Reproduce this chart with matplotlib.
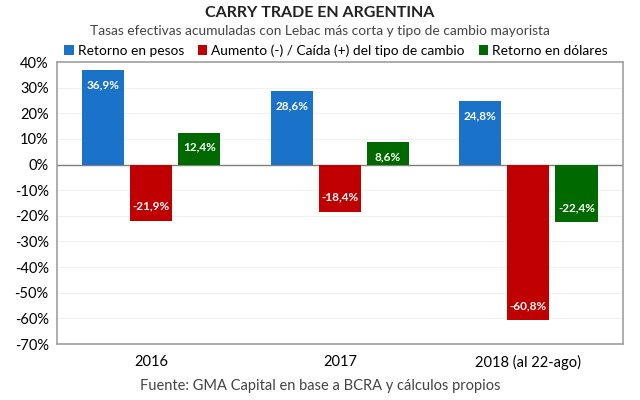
import matplotlib.pyplot as plt
import numpy as np

plt.rcParams['font.family'] = ['Lato', 'DejaVu Sans']

# datos
years = ['2016', '2017', '2018 (al 22-ago)']
ret_pesos = [36.9, 28.6, 24.8]
tipo_cambio = [-21.9, -18.4, -60.8]
ret_dolares = [12.4, 8.6, -22.4]
series_names = ['Retorno en pesos', 'Aumento (-) / Caída (+) del tipo de cambio',
                'Retorno en dólares']
colors = ['#1a73c8', '#c00000', '#006a00']

fig = plt.figure(figsize=(6.4, 4.0), dpi=100)
ax = fig.add_axes([0.089, 0.14, 0.884, 0.705])

x = np.arange(len(years))
w = 0.223
off = 0.255
for i, (vals, name, col) in enumerate(zip([ret_pesos, tipo_cambio, ret_dolares],
                                          series_names, colors)):
    b = ax.bar(x + (i - 1) * off, vals, width=w, color=col, label=name, zorder=3)
    for rect, v in zip(b, vals):
        txt = ('%.1f%%' % v).replace('.', ',')
        ax.annotate(txt, (rect.get_x() + rect.get_width() / 2, v),
                    xytext=(0, -10.5 if v > 0 else 10.5), textcoords='offset points',
                    ha='center', va='center', color='white', fontsize=8.5,
                    fontweight='bold', zorder=4)

ax.set_xlim(-0.5, 2.5)
ax.set_ylim(-70, 40)
ax.set_yticks(np.arange(-70, 41, 10))
ax.set_yticklabels(['%d%%' % t for t in np.arange(-70, 41, 10)], fontsize=10.5)
ax.set_xticks(x)
ax.set_xticklabels(years, fontsize=10.5)
ax.tick_params(length=0, pad=6)
ax.tick_params(axis='x', pad=8)
ax.yaxis.grid(True, color='#f0f0f0', lw=0.8, zorder=0)
ax.axhline(0, color='#7f7f7f', lw=1.0, zorder=2)
for s in ax.spines.values():
    s.set_color('#a0a0a0')
    s.set_linewidth(1.2)

fig.text(0.5, 0.967, 'CARRY TRADE EN ARGENTINA', ha='center', va='center',
         fontsize=11.5, fontweight='bold', color='#222222')
fig.text(0.5, 0.922, 'Tasas efectivas acumuladas con Lebac más corta y tipo de cambio mayorista',
         ha='center', va='center', fontsize=9.9, color='#444444')
fig.legend(loc='center', bbox_to_anchor=(0.525, 0.874), ncol=3, frameon=False,
           fontsize=9.9, handlelength=0.7, handleheight=0.7, handletextpad=0.3,
           columnspacing=1.0, borderaxespad=0)
fig.text(0.5, 0.035, 'Fuente: GMA Capital en base a BCRA y cálculos propios',
         ha='center', va='center', fontsize=10.5, color='#444444')

fig.savefig('out.png', dpi=100)
